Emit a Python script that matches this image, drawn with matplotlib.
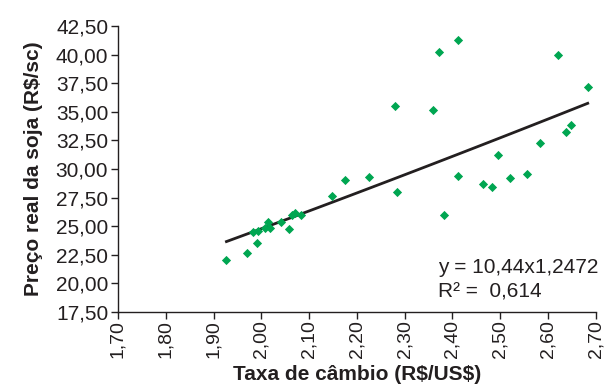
import numpy as np
import matplotlib
matplotlib.use("Agg")
import matplotlib.pyplot as plt
from matplotlib.ticker import FuncFormatter

plt.rcParams['font.family'] = ['Liberation Sans', 'DejaVu Sans']

# exchange rate (R$/US$) and real soybean price (R$/sc)
cambio = [1.927, 1.971, 1.991, 1.982, 1.994, 2.007, 2.013, 2.018, 2.042, 2.058,
          2.064, 2.070, 2.082, 2.148, 2.175, 2.225, 2.280, 2.283, 2.359, 2.372,
          2.411, 2.412, 2.383, 2.464, 2.482, 2.496, 2.520, 2.555, 2.583, 2.620,
          2.638, 2.648, 2.683]
preco = [22.03, 22.70, 23.50, 24.48, 24.55, 24.85, 25.41, 24.85, 25.41, 24.74,
         25.96, 26.14, 26.00, 27.65, 29.00, 29.30, 35.50, 28.00, 35.18, 40.20,
         41.33, 29.35, 25.94, 28.70, 28.44, 31.21, 29.26, 29.58, 32.26, 39.96,
         33.20, 33.81, 37.14]

# fitted power trend given in the chart
coef_a = 10.44
coef_b = 1.2472

fig = plt.figure(figsize=(6.08, 3.90), dpi=100)
ax = fig.add_axes([0.194, 0.2, 0.786, 0.733])

ax.scatter(cambio, preco, marker='D', s=22, color='#00a651', zorder=3, linewidths=0)

xs = np.linspace(min(cambio), max(cambio), 100)
ax.plot(xs, coef_a * xs ** coef_b, color='#231f20', lw=2.0, zorder=2)

ax.set_xlim(1.70, 2.70)
ax.set_ylim(17.5, 42.5)
ax.set_xticks(np.arange(1.70, 2.701, 0.10))
ax.set_yticks(np.arange(17.5, 42.51, 2.5))
comma = FuncFormatter(lambda v, p: ('%.2f' % v).replace('.', ','))
ax.xaxis.set_major_formatter(comma)
ax.yaxis.set_major_formatter(comma)
ax.tick_params(axis='x', labelrotation=90, labelsize=14, length=5, width=1, colors='#231f20', pad=1)
ax.tick_params(axis='y', labelsize=15, length=5, width=1, colors='#231f20', pad=2)

for s in ['top', 'right']:
    ax.spines[s].set_visible(False)
for s in ['left', 'bottom']:
    ax.spines[s].set_color('#231f20')
    ax.spines[s].set_linewidth(1)

ax.set_xlabel('Taxa de câmbio (R\\$/US\\$)', fontsize=15, fontweight='bold', color='#231f20', labelpad=5)
ax.set_ylabel('Preço real da soja (R\\$/sc)', fontsize=15, fontweight='bold', color='#231f20', labelpad=9)

ax.text(2.369, 20.9, 'y = 10,44x1,2472', fontsize=15, color='#231f20', va='baseline')
ax.text(2.369, 18.8, 'R² =  0,614', fontsize=15, color='#231f20', va='baseline')

fig.savefig('out.png', dpi=100)
